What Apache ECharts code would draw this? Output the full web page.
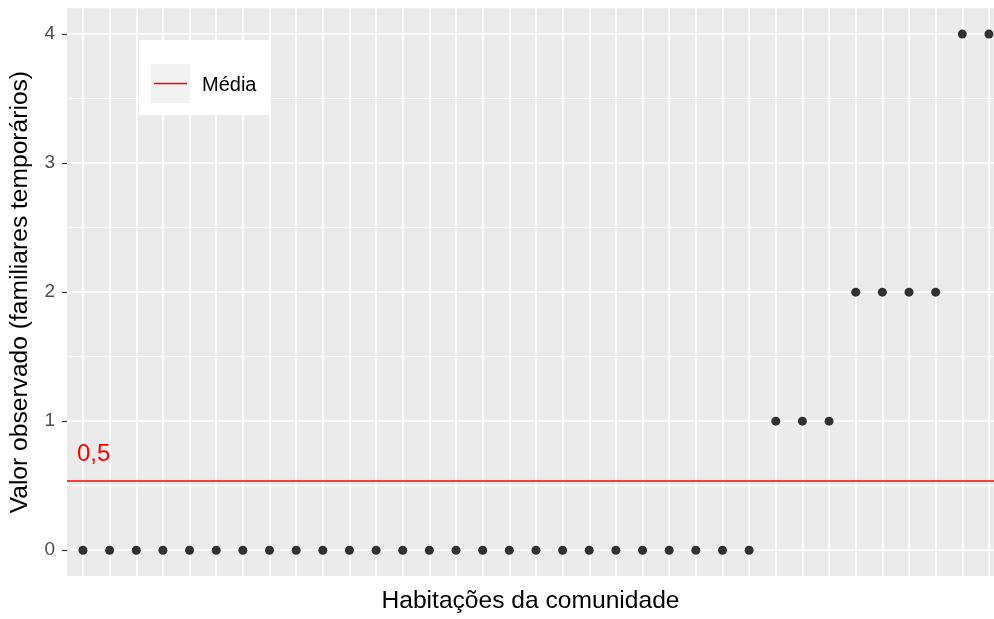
<!DOCTYPE html>
<html>
<head>
<meta charset="utf-8">
<script src="https://cdn.jsdelivr.net/npm/echarts@6/dist/echarts.min.js"></script>
<style>
html,body{margin:0;padding:0;background:#fff;}
#chart{width:994px;height:619px;}
</style>
</head>
<body>
<div id="chart"></div>
<script>
// ---- Data ----
var houses = [1,2,3,4,5,6,7,8,9,10,11,12,13,14,15,16,17,18,19,20,21,22,23,24,25,26,27,28,29,30,31,32,33,34,35];
var observed = [0,0,0,0,0,0,0,0,0,0,0,0,0,0,0,0,0,0,0,0,0,0,0,0,0,0,1,1,1,2,2,2,2,4,4];
var yTicks = [0,1,2,3,4];
var yMinor = [0.5,1.5,2.5,3.5];
var seriesName = 'Média';
var xTitle = 'Habitações da comunidade';
var yTitle = 'Valor observado (familiares temporários)';

// ---- Derived ----
var mean = observed.reduce(function(a,b){return a+b;},0) / observed.length;
var meanLabel = mean.toFixed(1).replace('.', ',');
var points = houses.map(function(h,i){ return [h, observed[i]]; });

var FONT = '"Liberation Sans", Arial, sans-serif';

var gridLines = [];
houses.forEach(function(h){ gridLines.push({xAxis: h, lineStyle:{width:1.6}}); });
yTicks.forEach(function(v){ gridLines.push({yAxis: v, lineStyle:{width:1.6}}); });
yMinor.forEach(function(v){ gridLines.push({yAxis: v, lineStyle:{width:0.8}}); });

var chart = echarts.init(document.getElementById('chart'), null, {renderer:'canvas'});
chart.setOption({
  animation: false,
  backgroundColor: '#ffffff',
  grid: {
    left: 62.5, right: 0, top: 8.3, bottom: 36.7,
    show: true, backgroundColor: '#EBEBEB', borderWidth: 0
  },
  xAxis: {
    type: 'value', min: 0.4, max: 35.19,
    axisLine: {show:false}, axisTick: {show:false}, axisLabel: {show:false},
    splitLine: {show:false},
    name: xTitle, nameLocation: 'middle', nameGap: 13,
    nameTextStyle: {fontFamily: FONT, fontSize: 24.6, color: '#000000', verticalAlign: 'top'}
  },
  yAxis: {
    type: 'value', min: -0.2, max: 4.2,
    axisLine: {show:false},
    axisTick: {show:true, length:5, customValues: yTicks, lineStyle:{color:'#333333', width:1.2}},
    axisLabel: {show:true, customValues: yTicks, margin: 12, fontFamily: FONT, fontSize: 19, color: '#4D4D4D'},
    splitLine: {show:false},
    name: yTitle, nameLocation: 'middle', nameGap: 34, nameRotate: 90,
    nameTextStyle: {fontFamily: FONT, fontSize: 24.6, color: '#000000'}
  },
  series: [
    {
      type: 'scatter', data: [], silent: true, z: 1,
      markLine: {
        silent: true, symbol: 'none', animation: false,
        label: {show:false},
        lineStyle: {color:'#ffffff', type:'solid'},
        emphasis: {disabled:true},
        data: gridLines
      }
    },
    {
      name: seriesName, type: 'line', data: [], z: 2,
      markLine: {
        silent: true, symbol: 'none', animation: false,
        lineStyle: {color:'#FF0000', width:1.6, type:'solid'},
        label: {
          show: true, position: 'insideStartTop', formatter: meanLabel,
          fontFamily: FONT, fontSize: 24, color: '#FF0000', distance: [10, 14]
        },
        emphasis: {disabled:true},
        data: [{yAxis: mean}]
      }
    },
    {
      type: 'scatter', data: points, symbol: 'circle', symbolSize: 9, z: 5, zlevel: 1,
      itemStyle: {color:'#000000'}
    }
  ],
  graphic: [
    {type:'rect', left:139, top:40, shape:{width:132, height:75}, style:{fill:'#ffffff'}, z:10},
    {type:'rect', left:151, top:64, shape:{width:39, height:39}, style:{fill:'#F2F2F2'}, z:11},
    {type:'line', shape:{x1:154, y1:83.5, x2:187, y2:83.5}, style:{stroke:'#FF0000', lineWidth:1.6}, z:12},
    {type:'text', left:202, top:75, style:{text: seriesName, font: '20px ' + FONT, fill:'#000000'}, z:12}
  ]
});
</script>
</body>
</html>
